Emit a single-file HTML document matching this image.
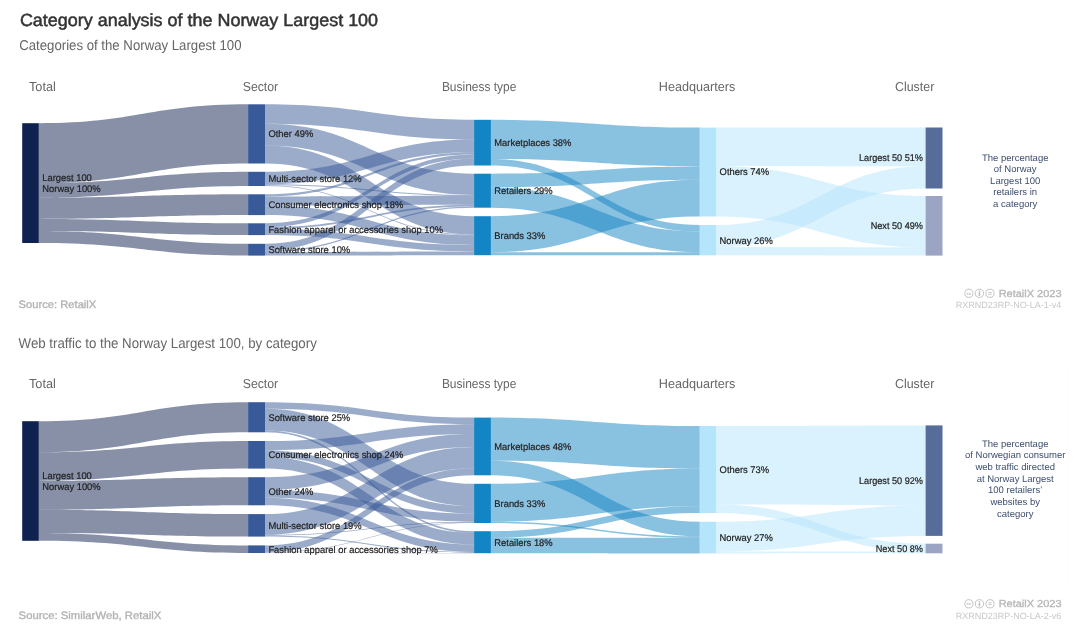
<!DOCTYPE html>
<html><head><meta charset="utf-8"><style>
html,body{margin:0;padding:0;background:#fff;}
body{width:1080px;height:635px;overflow:hidden;position:relative;font-family:"Liberation Sans", sans-serif;}
svg{position:absolute;left:0;top:0;will-change:transform;}
svg text{font-family:"Liberation Sans", sans-serif;text-rendering:geometricPrecision;}
</style></head><body>
<svg width="1080" height="635" viewBox="0 0 1080 635">
<rect x="10.5" y="63.5" width="1051" height="223" fill="none" stroke="#fdfdfd"/>
<rect x="10.5" y="362.5" width="1058" height="223" fill="none" stroke="#fdfdfd"/>
<text x="19.9" y="25.9" font-size="17.5" fill="#333" stroke="#333" stroke-width="0.5" textLength="358.2" lengthAdjust="spacingAndGlyphs">Category analysis of the Norway Largest 100</text>
<text x="19.2" y="49.5" font-size="14.2" fill="#666" textLength="222.3" lengthAdjust="spacingAndGlyphs">Categories of the Norway Largest 100</text>
<text x="18.6" y="348.1" font-size="14.2" fill="#666" textLength="298.2" lengthAdjust="spacingAndGlyphs">Web traffic to the Norway Largest 100, by category</text>
<path d="M38.8 123.2C137.17 123.2 149.73 104.3 248.1 104.3L248.1 163.5C149.73 163.5 137.17 183.15 38.8 183.15Z" fill="#0f214f" fill-opacity="0.5"/>
<path d="M38.8 183.15C137.17 183.15 149.73 171.8 248.1 171.8L248.1 186C149.73 186 137.17 197.65 38.8 197.65Z" fill="#0f214f" fill-opacity="0.5"/>
<path d="M38.8 197.65C137.17 197.65 149.73 194.3 248.1 194.3L248.1 215.1C149.73 215.1 137.17 218.9 38.8 218.9Z" fill="#0f214f" fill-opacity="0.5"/>
<path d="M38.8 218.9C137.17 218.9 149.73 223.3 248.1 223.3L248.1 235.1C149.73 235.1 137.17 230.95 38.8 230.95Z" fill="#0f214f" fill-opacity="0.5"/>
<path d="M38.8 230.95C137.17 230.95 149.73 243.8 248.1 243.8L248.1 255.6C149.73 255.6 137.17 243 38.8 243Z" fill="#0f214f" fill-opacity="0.5"/>
<path d="M265 104.3C363.28 104.3 375.82 119.8 474.1 119.8L474.1 139.55C375.82 139.55 363.28 123.87 265 123.87Z" fill="#385a98" fill-opacity="0.5"/>
<path d="M265 123.87C363.28 123.87 375.82 173.7 474.1 173.7L474.1 194.98C375.82 194.98 363.28 145.55 265 145.55Z" fill="#385a98" fill-opacity="0.5"/>
<path d="M265 145.55C363.28 145.55 375.82 216.2 474.1 216.2L474.1 234.44C375.82 234.44 363.28 163.5 265 163.5Z" fill="#385a98" fill-opacity="0.5"/>
<path d="M265 171.8C363.28 171.8 375.82 139.55 474.1 139.55L474.1 152.27C375.82 152.27 363.28 184.3 265 184.3Z" fill="#385a98" fill-opacity="0.5"/>
<path d="M265 184.3C363.28 184.3 375.82 194.98 474.1 194.98L474.1 195.82C375.82 195.82 363.28 185.15 265 185.15Z" fill="#385a98" fill-opacity="0.5"/>
<path d="M265 185.15C363.28 185.15 375.82 234.44 474.1 234.44L474.1 235.32C375.82 235.32 363.28 186 265 186Z" fill="#385a98" fill-opacity="0.5"/>
<path d="M265 194.3C363.28 194.3 375.82 152.27 474.1 152.27L474.1 154.51C375.82 154.51 363.28 196.5 265 196.5Z" fill="#385a98" fill-opacity="0.5"/>
<path d="M265 196.5C363.28 196.5 375.82 195.82 474.1 195.82L474.1 204.83C375.82 204.83 363.28 205.6 265 205.6Z" fill="#385a98" fill-opacity="0.5"/>
<path d="M265 205.6C363.28 205.6 375.82 235.32 474.1 235.32L474.1 245.05C375.82 245.05 363.28 215.1 265 215.1Z" fill="#385a98" fill-opacity="0.5"/>
<path d="M265 223.3C363.28 223.3 375.82 154.51 474.1 154.51L474.1 158.48C375.82 158.48 363.28 227.2 265 227.2Z" fill="#385a98" fill-opacity="0.5"/>
<path d="M265 227.2C363.28 227.2 375.82 204.83 474.1 204.83L474.1 206.41C375.82 206.41 363.28 228.8 265 228.8Z" fill="#385a98" fill-opacity="0.5"/>
<path d="M265 228.8C363.28 228.8 375.82 245.05 474.1 245.05L474.1 251.51C375.82 251.51 363.28 235.1 265 235.1Z" fill="#385a98" fill-opacity="0.5"/>
<path d="M265 243.8C363.28 243.8 375.82 158.48 474.1 158.48L474.1 165.5C375.82 165.5 363.28 250.7 265 250.7Z" fill="#385a98" fill-opacity="0.5"/>
<path d="M265 250.7C363.28 250.7 375.82 206.41 474.1 206.41L474.1 207.7C375.82 207.7 363.28 252 265 252Z" fill="#385a98" fill-opacity="0.5"/>
<path d="M265 252C363.28 252 375.82 251.51 474.1 251.51L474.1 255.2C375.82 255.2 363.28 255.6 265 255.6Z" fill="#385a98" fill-opacity="0.5"/>
<path d="M490.9 119.8C589.08 119.8 601.62 127.6 699.8 127.6L699.8 166.4C601.62 166.4 589.08 159.03 490.9 159.03Z" fill="#1384c4" fill-opacity="0.5"/>
<path d="M490.9 159.03C589.08 159.03 601.62 225 699.8 225L699.8 231.62C601.62 231.62 589.08 165.5 490.9 165.5Z" fill="#1384c4" fill-opacity="0.5"/>
<path d="M490.9 173.7C589.08 173.7 601.62 166.4 699.8 166.4L699.8 179.8C601.62 179.8 589.08 187.38 490.9 187.38Z" fill="#1384c4" fill-opacity="0.5"/>
<path d="M490.9 187.38C589.08 187.38 601.62 231.62 699.8 231.62L699.8 252.2C601.62 252.2 589.08 207.7 490.9 207.7Z" fill="#1384c4" fill-opacity="0.5"/>
<path d="M490.9 216.2C589.08 216.2 601.62 179.8 699.8 179.8L699.8 216.5C601.62 216.5 589.08 252.25 490.9 252.25Z" fill="#1384c4" fill-opacity="0.5"/>
<path d="M490.9 252.25C589.08 252.25 601.62 252.2 699.8 252.2L699.8 255.3C601.62 255.3 589.08 255.2 490.9 255.2Z" fill="#1384c4" fill-opacity="0.5"/>
<path d="M716.2 127.6C814.62 127.6 827.18 127.5 925.6 127.5L925.6 166.18C827.18 166.18 814.62 165.9 716.2 165.9Z" fill="#b5e5fb" fill-opacity="0.5"/>
<path d="M716.2 165.9C814.62 165.9 827.18 196 925.6 196L925.6 247.29C827.18 247.29 814.62 216.5 716.2 216.5Z" fill="#b5e5fb" fill-opacity="0.5"/>
<path d="M716.2 225C814.62 225 827.18 166.18 925.6 166.18L925.6 188.5C827.18 188.5 814.62 247.1 716.2 247.1Z" fill="#b5e5fb" fill-opacity="0.5"/>
<path d="M716.2 247.1C814.62 247.1 827.18 247.29 925.6 247.29L925.6 255.6C827.18 255.6 814.62 255.3 716.2 255.3Z" fill="#b5e5fb" fill-opacity="0.5"/>
<rect x="22.2" y="123.2" width="16.6" height="119.8" fill="#0f214f"/>
<rect x="248.1" y="104.3" width="16.9" height="59.2" fill="#385a98"/>
<rect x="248.1" y="171.8" width="16.9" height="14.2" fill="#385a98"/>
<rect x="248.1" y="194.3" width="16.9" height="20.8" fill="#385a98"/>
<rect x="248.1" y="223.3" width="16.9" height="11.8" fill="#385a98"/>
<rect x="248.1" y="243.8" width="16.9" height="11.8" fill="#385a98"/>
<rect x="474.1" y="119.8" width="16.8" height="45.7" fill="#1384c4"/>
<rect x="474.1" y="173.7" width="16.8" height="34" fill="#1384c4"/>
<rect x="474.1" y="216.2" width="16.8" height="39" fill="#1384c4"/>
<rect x="699.8" y="127.6" width="16.4" height="88.9" fill="#b5e5fb"/>
<rect x="699.8" y="225" width="16.4" height="30.3" fill="#b5e5fb"/>
<rect x="925.6" y="127.5" width="16.9" height="61" fill="#566d9c"/>
<rect x="925.6" y="196" width="16.9" height="59.6" fill="#9ba4c2"/>
<text x="42.3" y="180.8" font-size="9.7" fill="#222" stroke="#222" stroke-width="0.2" textLength="49.53" lengthAdjust="spacingAndGlyphs">Largest 100</text>
<text x="42.3" y="191.7" font-size="9.7" fill="#222" stroke="#222" stroke-width="0.2" textLength="58.38" lengthAdjust="spacingAndGlyphs">Norway 100%</text>
<text x="268.4" y="137.3" font-size="9.7" fill="#222" stroke="#222" stroke-width="0.2" textLength="44.83" lengthAdjust="spacingAndGlyphs">Other 49%</text>
<text x="268.4" y="182.3" font-size="9.7" fill="#222" stroke="#222" stroke-width="0.2" textLength="93.27" lengthAdjust="spacingAndGlyphs">Multi-sector store 12%</text>
<text x="268.4" y="208.1" font-size="9.7" fill="#222" stroke="#222" stroke-width="0.2" textLength="134.97" lengthAdjust="spacingAndGlyphs">Consumer electronics shop 18%</text>
<text x="268.4" y="232.6" font-size="9.7" fill="#222" stroke="#222" stroke-width="0.2" textLength="174.58" lengthAdjust="spacingAndGlyphs">Fashion apparel or accessories shop 10%</text>
<text x="268.4" y="253.1" font-size="9.7" fill="#222" stroke="#222" stroke-width="0.2" textLength="81.81" lengthAdjust="spacingAndGlyphs">Software store 10%</text>
<text x="494.3" y="146.05" font-size="9.7" fill="#222" stroke="#222" stroke-width="0.2" textLength="77.12" lengthAdjust="spacingAndGlyphs">Marketplaces 38%</text>
<text x="494.3" y="194.1" font-size="9.7" fill="#222" stroke="#222" stroke-width="0.2" textLength="58.38" lengthAdjust="spacingAndGlyphs">Retailers 29%</text>
<text x="494.3" y="239.1" font-size="9.7" fill="#222" stroke="#222" stroke-width="0.2" textLength="51.08" lengthAdjust="spacingAndGlyphs">Brands 33%</text>
<text x="719.6" y="175.45" font-size="9.7" fill="#222" stroke="#222" stroke-width="0.2" textLength="49.52" lengthAdjust="spacingAndGlyphs">Others 74%</text>
<text x="719.6" y="243.55" font-size="9.7" fill="#222" stroke="#222" stroke-width="0.2" textLength="53.16" lengthAdjust="spacingAndGlyphs">Norway 26%</text>
<text x="923" y="161.4" font-size="9.7" fill="#222" text-anchor="end" stroke="#222" stroke-width="0.2" textLength="64.03" lengthAdjust="spacingAndGlyphs">Largest 50 51%</text>
<text x="923" y="229.2" font-size="9.7" fill="#222" text-anchor="end" stroke="#222" stroke-width="0.2" textLength="52.35" lengthAdjust="spacingAndGlyphs">Next 50 49%</text>
<text x="29" y="91.2" font-size="13" fill="#666" textLength="26.9" lengthAdjust="spacingAndGlyphs">Total</text>
<text x="242.7" y="91.2" font-size="13" fill="#666" textLength="35.5" lengthAdjust="spacingAndGlyphs">Sector</text>
<text x="441.9" y="91.2" font-size="13" fill="#666" textLength="74.5" lengthAdjust="spacingAndGlyphs">Business type</text>
<text x="658.8" y="91.2" font-size="13" fill="#666" textLength="76.6" lengthAdjust="spacingAndGlyphs">Headquarters</text>
<text x="895" y="91.2" font-size="13" fill="#666" textLength="39.3" lengthAdjust="spacingAndGlyphs">Cluster</text>
<text x="1015.2" y="161" font-size="9.5" fill="#3e4e6f" text-anchor="middle">The percentage</text>
<text x="1015.2" y="172.45" font-size="9.5" fill="#3e4e6f" text-anchor="middle">of Norway</text>
<text x="1015.2" y="183.9" font-size="9.5" fill="#3e4e6f" text-anchor="middle">Largest 100</text>
<text x="1015.2" y="195.35" font-size="9.5" fill="#3e4e6f" text-anchor="middle">retailers in</text>
<text x="1015.2" y="206.8" font-size="9.5" fill="#3e4e6f" text-anchor="middle">a category</text>
<text x="18.6" y="308.4" font-size="10.8" fill="#b3b3b3" stroke="#b3b3b3" stroke-width="0.35" textLength="77.7" lengthAdjust="spacingAndGlyphs">Source: RetailX</text>
<text x="1061.5" y="296.7" font-size="10.2" fill="#b8b8b8" text-anchor="end" stroke="#b8b8b8" stroke-width="0.35" textLength="62.8" lengthAdjust="spacingAndGlyphs">RetailX 2023</text>
<text x="1061.4" y="308.1" font-size="9" fill="#c8c8c8" text-anchor="end" textLength="105.7" lengthAdjust="spacingAndGlyphs">RXRND23RP-NO-LA-1-v4</text>
<circle cx="968.9" cy="293.3" r="4.1" fill="none" stroke="#bdbdbd" stroke-width="0.9"/>
<circle cx="979.4" cy="293.3" r="4.1" fill="none" stroke="#bdbdbd" stroke-width="0.9"/>
<circle cx="990" cy="293.3" r="4.1" fill="none" stroke="#bdbdbd" stroke-width="0.9"/>
<text x="968.9" y="294.8" font-size="4.2" font-weight="bold" fill="#bdbdbd" text-anchor="middle">cc</text>
<circle cx="979.4" cy="291.2" r="0.8" fill="#bdbdbd"/>
<rect x="978.6" y="292.3" width="1.6" height="3.6" fill="#bdbdbd"/>
<rect x="988.3" y="292" width="3.4" height="0.8" fill="#bdbdbd"/>
<rect x="988.3" y="293.8" width="3.4" height="0.8" fill="#bdbdbd"/>
<path d="M38.8 421.2C137.17 421.2 149.73 402.2 248.1 402.2L248.1 432.3C149.73 432.3 137.17 452.26 38.8 452.26Z" fill="#0f214f" fill-opacity="0.5"/>
<path d="M38.8 452.26C137.17 452.26 149.73 441 248.1 441L248.1 468.6C149.73 468.6 137.17 480.74 38.8 480.74Z" fill="#0f214f" fill-opacity="0.5"/>
<path d="M38.8 480.74C137.17 480.74 149.73 477.2 248.1 477.2L248.1 505.3C149.73 505.3 137.17 509.74 38.8 509.74Z" fill="#0f214f" fill-opacity="0.5"/>
<path d="M38.8 509.74C137.17 509.74 149.73 514.1 248.1 514.1L248.1 536.6C149.73 536.6 137.17 532.96 38.8 532.96Z" fill="#0f214f" fill-opacity="0.5"/>
<path d="M38.8 532.96C137.17 532.96 149.73 545.4 248.1 545.4L248.1 553C149.73 553 137.17 540.8 38.8 540.8Z" fill="#0f214f" fill-opacity="0.5"/>
<path d="M265 402.2C363.28 402.2 375.82 417.6 474.1 417.6L474.1 424.14C375.82 424.14 363.28 408.63 265 408.63Z" fill="#385a98" fill-opacity="0.5"/>
<path d="M265 408.63C363.28 408.63 375.82 483.8 474.1 483.8L474.1 506.27C375.82 506.27 363.28 430.57 265 430.57Z" fill="#385a98" fill-opacity="0.5"/>
<path d="M265 430.57C363.28 430.57 375.82 531.2 474.1 531.2L474.1 532.88C375.82 532.88 363.28 432.3 265 432.3Z" fill="#385a98" fill-opacity="0.5"/>
<path d="M265 441C363.28 441 375.82 424.14 474.1 424.14L474.1 434C375.82 434 363.28 450.27 265 450.27Z" fill="#385a98" fill-opacity="0.5"/>
<path d="M265 450.27C363.28 450.27 375.82 506.27 474.1 506.27L474.1 513.59C375.82 513.59 363.28 457.09 265 457.09Z" fill="#385a98" fill-opacity="0.5"/>
<path d="M265 457.09C363.28 457.09 375.82 532.88 474.1 532.88L474.1 544.52C375.82 544.52 363.28 468.6 265 468.6Z" fill="#385a98" fill-opacity="0.5"/>
<path d="M265 477.2C363.28 477.2 375.82 434 474.1 434L474.1 446.97C375.82 446.97 363.28 489.88 265 489.88Z" fill="#385a98" fill-opacity="0.5"/>
<path d="M265 489.88C363.28 489.88 375.82 513.59 474.1 513.59L474.1 521.64C375.82 521.64 363.28 497.69 265 497.69Z" fill="#385a98" fill-opacity="0.5"/>
<path d="M265 497.69C363.28 497.69 375.82 544.52 474.1 544.52L474.1 551.92C375.82 551.92 363.28 505.3 265 505.3Z" fill="#385a98" fill-opacity="0.5"/>
<path d="M265 514.1C363.28 514.1 375.82 446.97 474.1 446.97L474.1 468.24C375.82 468.24 363.28 534.78 265 534.78Z" fill="#385a98" fill-opacity="0.5"/>
<path d="M265 534.78C363.28 534.78 375.82 521.64 474.1 521.64L474.1 522.48C375.82 522.48 363.28 535.59 265 535.59Z" fill="#385a98" fill-opacity="0.5"/>
<path d="M265 535.59C363.28 535.59 375.82 551.92 474.1 551.92L474.1 552.9C375.82 552.9 363.28 536.6 265 536.6Z" fill="#385a98" fill-opacity="0.5"/>
<path d="M265 545.4C363.28 545.4 375.82 468.24 474.1 468.24L474.1 475.3C375.82 475.3 363.28 552.2 265 552.2Z" fill="#385a98" fill-opacity="0.5"/>
<path d="M265 552.2C363.28 552.2 375.82 522.48 474.1 522.48L474.1 523C375.82 523 363.28 552.7 265 552.7Z" fill="#385a98" fill-opacity="0.5"/>
<path d="M265 552.7C363.28 552.7 375.82 552.9 474.1 552.9L474.1 553.2C375.82 553.2 363.28 553 265 553Z" fill="#385a98" fill-opacity="0.5"/>
<path d="M490.9 417.6C589.08 417.6 601.62 426 699.8 426L699.8 468.56C601.62 468.56 589.08 460.7 490.9 460.7Z" fill="#1384c4" fill-opacity="0.5"/>
<path d="M490.9 460.7C589.08 460.7 601.62 521.8 699.8 521.8L699.8 536.44C601.62 536.44 589.08 475.3 490.9 475.3Z" fill="#1384c4" fill-opacity="0.5"/>
<path d="M490.9 483.8C589.08 483.8 601.62 468.56 699.8 468.56L699.8 506.34C601.62 506.34 589.08 521.7 490.9 521.7Z" fill="#1384c4" fill-opacity="0.5"/>
<path d="M490.9 521.7C589.08 521.7 601.62 536.44 699.8 536.44L699.8 537.75C601.62 537.75 589.08 523 490.9 523Z" fill="#1384c4" fill-opacity="0.5"/>
<path d="M490.9 531.2C589.08 531.2 601.62 506.34 699.8 506.34L699.8 513C601.62 513 589.08 537.84 490.9 537.84Z" fill="#1384c4" fill-opacity="0.5"/>
<path d="M490.9 537.84C589.08 537.84 601.62 537.75 699.8 537.75L699.8 553.4C601.62 553.4 589.08 553.2 490.9 553.2Z" fill="#1384c4" fill-opacity="0.5"/>
<path d="M716.2 426C814.62 426 827.18 425.4 925.6 425.4L925.6 505.49C827.18 505.49 814.62 504.46 716.2 504.46Z" fill="#b5e5fb" fill-opacity="0.5"/>
<path d="M716.2 504.46C814.62 504.46 827.18 543.7 925.6 543.7L925.6 551.49C827.18 551.49 814.62 513 716.2 513Z" fill="#b5e5fb" fill-opacity="0.5"/>
<path d="M716.2 521.8C814.62 521.8 827.18 505.49 925.6 505.49L925.6 535.9C827.18 535.9 814.62 551.42 716.2 551.42Z" fill="#b5e5fb" fill-opacity="0.5"/>
<path d="M716.2 551.42C814.62 551.42 827.18 551.49 925.6 551.49L925.6 553.3C827.18 553.3 814.62 553.4 716.2 553.4Z" fill="#b5e5fb" fill-opacity="0.5"/>
<rect x="22.2" y="421.2" width="16.6" height="119.6" fill="#0f214f"/>
<rect x="248.1" y="402.2" width="16.9" height="30.1" fill="#385a98"/>
<rect x="248.1" y="441" width="16.9" height="27.6" fill="#385a98"/>
<rect x="248.1" y="477.2" width="16.9" height="28.1" fill="#385a98"/>
<rect x="248.1" y="514.1" width="16.9" height="22.5" fill="#385a98"/>
<rect x="248.1" y="545.4" width="16.9" height="7.6" fill="#385a98"/>
<rect x="474.1" y="417.6" width="16.8" height="57.7" fill="#1384c4"/>
<rect x="474.1" y="483.8" width="16.8" height="39.2" fill="#1384c4"/>
<rect x="474.1" y="531.2" width="16.8" height="22" fill="#1384c4"/>
<rect x="699.8" y="426" width="16.4" height="87" fill="#b5e5fb"/>
<rect x="699.8" y="521.8" width="16.4" height="31.6" fill="#b5e5fb"/>
<rect x="925.6" y="425.4" width="16.9" height="110.5" fill="#566d9c"/>
<rect x="925.6" y="543.7" width="16.9" height="9.6" fill="#9ba4c2"/>
<text x="42.3" y="478.7" font-size="9.7" fill="#222" stroke="#222" stroke-width="0.2" textLength="49.53" lengthAdjust="spacingAndGlyphs">Largest 100</text>
<text x="42.3" y="489.6" font-size="9.7" fill="#222" stroke="#222" stroke-width="0.2" textLength="58.38" lengthAdjust="spacingAndGlyphs">Norway 100%</text>
<text x="268.4" y="420.65" font-size="9.7" fill="#222" stroke="#222" stroke-width="0.2" textLength="81.81" lengthAdjust="spacingAndGlyphs">Software store 25%</text>
<text x="268.4" y="458.2" font-size="9.7" fill="#222" stroke="#222" stroke-width="0.2" textLength="134.97" lengthAdjust="spacingAndGlyphs">Consumer electronics shop 24%</text>
<text x="268.4" y="494.65" font-size="9.7" fill="#222" stroke="#222" stroke-width="0.2" textLength="44.83" lengthAdjust="spacingAndGlyphs">Other 24%</text>
<text x="268.4" y="528.75" font-size="9.7" fill="#222" stroke="#222" stroke-width="0.2" textLength="93.27" lengthAdjust="spacingAndGlyphs">Multi-sector store 19%</text>
<text x="268.4" y="552.6" font-size="9.7" fill="#222" stroke="#222" stroke-width="0.2" textLength="169.38" lengthAdjust="spacingAndGlyphs">Fashion apparel or accessories shop 7%</text>
<text x="494.3" y="449.85" font-size="9.7" fill="#222" stroke="#222" stroke-width="0.2" textLength="77.12" lengthAdjust="spacingAndGlyphs">Marketplaces 48%</text>
<text x="494.3" y="506.8" font-size="9.7" fill="#222" stroke="#222" stroke-width="0.2" textLength="51.08" lengthAdjust="spacingAndGlyphs">Brands 33%</text>
<text x="494.3" y="545.6" font-size="9.7" fill="#222" stroke="#222" stroke-width="0.2" textLength="58.38" lengthAdjust="spacingAndGlyphs">Retailers 18%</text>
<text x="719.6" y="472.9" font-size="9.7" fill="#222" stroke="#222" stroke-width="0.2" textLength="49.52" lengthAdjust="spacingAndGlyphs">Others 73%</text>
<text x="719.6" y="541" font-size="9.7" fill="#222" stroke="#222" stroke-width="0.2" textLength="53.16" lengthAdjust="spacingAndGlyphs">Norway 27%</text>
<text x="923" y="484.05" font-size="9.7" fill="#222" text-anchor="end" stroke="#222" stroke-width="0.2" textLength="64.03" lengthAdjust="spacingAndGlyphs">Largest 50 92%</text>
<text x="923" y="551.9" font-size="9.7" fill="#222" text-anchor="end" stroke="#222" stroke-width="0.2" textLength="47.26" lengthAdjust="spacingAndGlyphs">Next 50 8%</text>
<text x="29" y="387.9" font-size="13" fill="#666" textLength="26.9" lengthAdjust="spacingAndGlyphs">Total</text>
<text x="242.7" y="387.9" font-size="13" fill="#666" textLength="35.5" lengthAdjust="spacingAndGlyphs">Sector</text>
<text x="441.9" y="387.9" font-size="13" fill="#666" textLength="74.5" lengthAdjust="spacingAndGlyphs">Business type</text>
<text x="658.8" y="387.9" font-size="13" fill="#666" textLength="76.6" lengthAdjust="spacingAndGlyphs">Headquarters</text>
<text x="895" y="387.9" font-size="13" fill="#666" textLength="39.3" lengthAdjust="spacingAndGlyphs">Cluster</text>
<text x="1015.2" y="446.8" font-size="9.5" fill="#3e4e6f" text-anchor="middle">The percentage</text>
<text x="1015.2" y="458.47" font-size="9.5" fill="#3e4e6f" text-anchor="middle">of Norwegian consumer</text>
<text x="1015.2" y="470.14" font-size="9.5" fill="#3e4e6f" text-anchor="middle">web traffic directed</text>
<text x="1015.2" y="481.81" font-size="9.5" fill="#3e4e6f" text-anchor="middle">at Norway Largest</text>
<text x="1015.2" y="493.48" font-size="9.5" fill="#3e4e6f" text-anchor="middle">100 retailers’</text>
<text x="1015.2" y="505.15" font-size="9.5" fill="#3e4e6f" text-anchor="middle">websites by</text>
<text x="1015.2" y="516.82" font-size="9.5" fill="#3e4e6f" text-anchor="middle">category</text>
<text x="18.6" y="618.9" font-size="10.8" fill="#b3b3b3" stroke="#b3b3b3" stroke-width="0.35" textLength="142.7" lengthAdjust="spacingAndGlyphs">Source: SimilarWeb, RetailX</text>
<text x="1061.5" y="607.2" font-size="10.2" fill="#b8b8b8" text-anchor="end" stroke="#b8b8b8" stroke-width="0.35" textLength="62.8" lengthAdjust="spacingAndGlyphs">RetailX 2023</text>
<text x="1061.4" y="618.6" font-size="9" fill="#c8c8c8" text-anchor="end" textLength="105.7" lengthAdjust="spacingAndGlyphs">RXRND23RP-NO-LA-2-v6</text>
<circle cx="968.9" cy="603.8" r="4.1" fill="none" stroke="#bdbdbd" stroke-width="0.9"/>
<circle cx="979.4" cy="603.8" r="4.1" fill="none" stroke="#bdbdbd" stroke-width="0.9"/>
<circle cx="990" cy="603.8" r="4.1" fill="none" stroke="#bdbdbd" stroke-width="0.9"/>
<text x="968.9" y="605.3" font-size="4.2" font-weight="bold" fill="#bdbdbd" text-anchor="middle">cc</text>
<circle cx="979.4" cy="601.7" r="0.8" fill="#bdbdbd"/>
<rect x="978.6" y="602.8" width="1.6" height="3.6" fill="#bdbdbd"/>
<rect x="988.3" y="602.5" width="3.4" height="0.8" fill="#bdbdbd"/>
<rect x="988.3" y="604.3" width="3.4" height="0.8" fill="#bdbdbd"/>
</svg>
</body></html>
